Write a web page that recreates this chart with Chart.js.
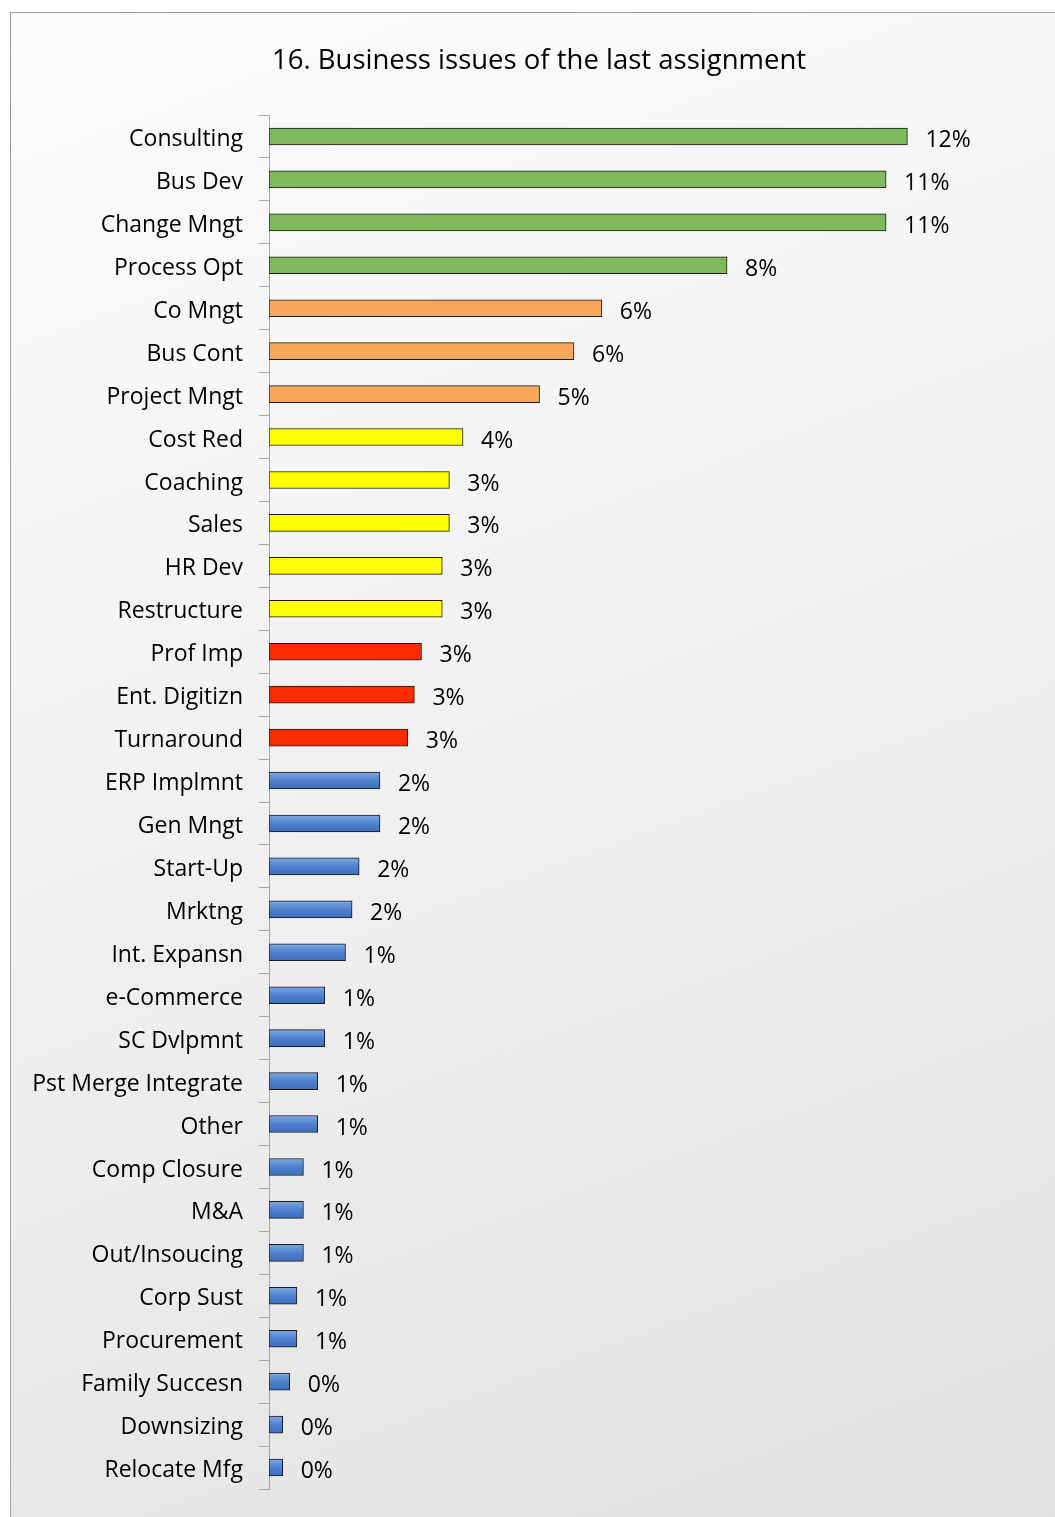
<!DOCTYPE html>
<html lang="en">
<head>
    <meta charset="UTF-8">
    <title>16. Business issues of the last assignment</title>
    <style>
        html, body {
            margin: 0;
            padding: 0;
            height: 100%;
            overflow: hidden;
            background: #ffffff;
        }

        .frame {
            position: absolute;
            left: 10px;
            top: 12px;
            width: 1060px;
            height: 1520px;
            border: 1px solid #a0a0a0;
            background: linear-gradient(160deg, #fcfcfc 0%, #f1f1f1 45%, #e2e2e2 100%);
        }

        canvas {
            display: block;
        }
    </style>
    <script src="https://cdn.jsdelivr.net/npm/chart.js"></script>
</head>
<body>

<div class="frame">
    <canvas id="issuesChart" width="1060" height="1510"></canvas>
</div>

<script>
    // categories, top to bottom
    const categories = [
        'Consulting', 'Bus Dev', 'Change Mngt', 'Process Opt',
        'Co Mngt', 'Bus Cont', 'Project Mngt',
        'Cost Red', 'Coaching', 'Sales', 'HR Dev', 'Restructure',
        'Prof Imp', 'Ent. Digitizn', 'Turnaround',
        'ERP Implmnt', 'Gen Mngt', 'Start-Up', 'Mrktng', 'Int. Expansn',
        'e-Commerce', 'SC Dvlpmnt', 'Pst Merge Integrate', 'Other',
        'Comp Closure', 'M&A', 'Out/Insoucing', 'Corp Sust', 'Procurement',
        'Family Succesn', 'Downsizing', 'Relocate Mfg'
    ];

    // share of answers in percent
    const shares = [
        11.68, 11.29, 11.29, 8.38,
        6.09, 5.58, 4.95,
        3.55, 3.30, 3.30, 3.17, 3.17,
        2.79, 2.66, 2.54,
        2.03, 2.03, 1.65, 1.52, 1.40,
        1.02, 1.02, 0.89, 0.89,
        0.63, 0.63, 0.63, 0.51, 0.51,
        0.38, 0.25, 0.25
    ];

    // colour group of each bar
    const groups = [
        'green', 'green', 'green', 'green',
        'orange', 'orange', 'orange',
        'yellow', 'yellow', 'yellow', 'yellow', 'yellow',
        'red', 'red', 'red',
        'blue', 'blue', 'blue', 'blue', 'blue', 'blue', 'blue', 'blue', 'blue',
        'blue', 'blue', 'blue', 'blue', 'blue', 'blue', 'blue', 'blue'
    ];

    const groupColors = {
        green: '#80b95b',
        orange: '#f9a75a',
        yellow: '#ffff00',
        red: '#ff2a00',
        blue: '#4f81c7'
    };

    const BAR_H = 17;
    const FONT = '"Open Sans", sans-serif';

    function barFill(context) {
        const group = groups[context.dataIndex];
        const chart = context.chart;
        if (group !== 'blue' || !chart.chartArea) {
            return groupColors[group];
        }
        const y = chart.scales.y.getPixelForValue(context.dataIndex);
        const g = chart.ctx.createLinearGradient(0, y - BAR_H / 2, 0, y + BAR_H / 2);
        g.addColorStop(0, '#7ea8e4');
        g.addColorStop(0.5, '#4f81cf');
        g.addColorStop(1, '#3b6dbd');
        return g;
    }

    // percent labels at the end of each bar
    const valueLabels = {
        id: 'valueLabels',
        afterDatasetsDraw(chart) {
            const ctx = chart.ctx;
            const meta = chart.getDatasetMeta(0);
            ctx.save();
            ctx.font = '23px ' + FONT;
            ctx.fillStyle = '#000';
            ctx.textAlign = 'left';
            ctx.textBaseline = 'middle';
            meta.data.forEach((bar, i) => {
                ctx.fillText(Math.round(shares[i]) + '%', bar.x + 18, bar.y + 4);
            });
            ctx.restore();
        }
    };

    new Chart(document.getElementById('issuesChart'), {
        type: 'bar',
        data: {
            labels: categories,
            datasets: [{
                data: shares,
                backgroundColor: barFill,
                borderColor: '#1a1a1a',
                borderWidth: 1,
                borderSkipped: false,
                barThickness: BAR_H
            }]
        },
        options: {
            indexAxis: 'y',
            responsive: false,
            animation: false,
            layout: {
                padding: { left: 0, right: 4, top: 0, bottom: 34 }
            },
            scales: {
                x: {
                    display: false,
                    min: 0,
                    max: 14.6
                },
                y: {
                    afterFit(scale) {
                        scale.width = 258;
                    },
                    grid: {
                        offset: true,
                        drawOnChartArea: false,
                        drawTicks: true,
                        tickLength: 10,
                        color: '#a6a6a6'
                    },
                    border: {
                        display: true,
                        color: '#a6a6a6'
                    },
                    ticks: {
                        padding: 16,
                        labelOffset: 3,
                        color: '#000',
                        font: { family: FONT, size: 23 }
                    }
                }
            },
            plugins: {
                legend: { display: false },
                tooltip: { enabled: false },
                title: {
                    display: true,
                    text: '16. Business issues of the last assignment',
                    color: '#000',
                    font: { family: FONT, size: 27.5, weight: 'normal' },
                    padding: { top: 32, bottom: 37 }
                }
            }
        },
        plugins: [valueLabels]
    });
</script>

</body>
</html>
